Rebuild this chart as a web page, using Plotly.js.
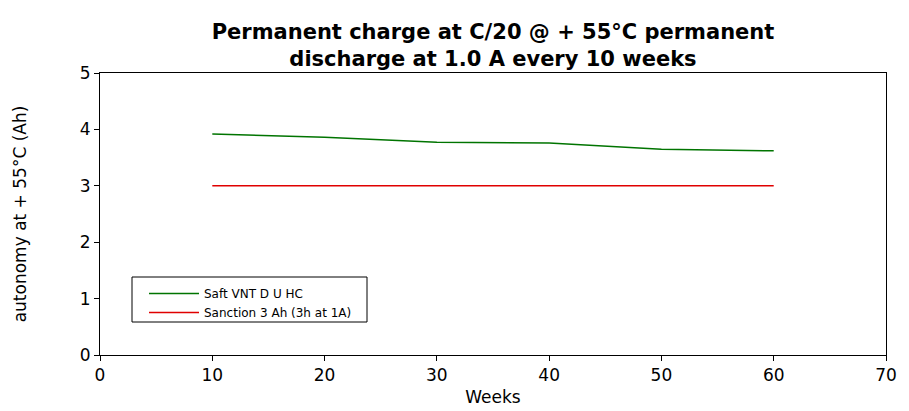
<!DOCTYPE html>
<html>
<head>
<meta charset="utf-8">
<script src="https://cdn.plot.ly/plotly-3.0.1.min.js"></script>
<style>html,body{margin:0;padding:0;background:#fff;}#chart{width:909px;height:411px;}</style>
</head>
<body>
<div id="chart"></div>
<script>
const weeks = [10, 20, 30, 40, 50, 60];
const saftValues = [3.92, 3.86, 3.77, 3.76, 3.65, 3.62];
const sanctionValues = [3, 3, 3, 3, 3, 3];
const seriesNames = ["Saft VNT D U HC", "Sanction 3 Ah (3h at 1A)"];
const xTicks = [0, 10, 20, 30, 40, 50, 60, 70];
const yTicks = [0, 1, 2, 3, 4, 5];

const font = "DejaVu Sans, Verdana, sans-serif";

const traces = [
  {x: weeks, y: saftValues, name: seriesNames[0], mode: "lines", line: {color: "#007400", width: 1.5}},
  {x: weeks, y: sanctionValues, name: seriesNames[1], mode: "lines", line: {color: "#e00000", width: 1.5}}
];

const layout = {
  width: 909, height: 411,
  margin: {l: 100, r: 23, t: 73, b: 56},
  paper_bgcolor: "#fff", plot_bgcolor: "#fff",
  font: {family: font, color: "#000", size: 17},
  title: {
    text: "<b>Permanent charge at C/20 @ + 55°C permanent<br>discharge at 1.0 A every 10 weeks</b>",
    font: {family: font, size: 21, color: "#000"},
    xref: "paper", x: 0.5, xanchor: "center",
    yref: "container", y: 0.905, yanchor: "middle"
  },
  xaxis: {
    range: [0, 70], tickvals: xTicks, ticktext: xTicks.map(String),
    showgrid: false, zeroline: false, showline: true, linecolor: "#000", linewidth: 1,
    mirror: true, ticks: "outside", ticklen: 5, tickcolor: "#000",
    tickfont: {size: 17},
    title: {text: "Weeks", font: {size: 17}, standoff: 6}
  },
  yaxis: {
    range: [0, 5], tickvals: yTicks, ticktext: yTicks.map(String),
    showgrid: false, zeroline: false, showline: true, linecolor: "#000", linewidth: 1,
    mirror: true, ticks: "outside", ticklen: 5, tickcolor: "#000",
    tickfont: {size: 17},
    title: {text: "autonomy at + 55°C (Ah)", font: {size: 17}, standoff: 48}
  },
  showlegend: true,
  legend: {
    x: (144 - 100) / 786, xanchor: "left", y: (355 - 279) / 282, yanchor: "top",
    bgcolor: "rgba(0,0,0,0)", borderwidth: 0,
    font: {size: 12}, itemwidth: 50, tracegroupgap: 0
  },
  shapes: [{
    type: "rect", xref: "paper", yref: "paper",
    x0: (132 - 100) / 786, x1: (367 - 100) / 786,
    y0: (355 - 322) / 282, y1: (355 - 277) / 282,
    line: {color: "#000", width: 1}, fillcolor: "rgba(0,0,0,0)", layer: "below"
  }]
};

Plotly.newPlot("chart", traces, layout, {displayModeBar: false, staticPlot: true});
</script>
</body>
</html>
